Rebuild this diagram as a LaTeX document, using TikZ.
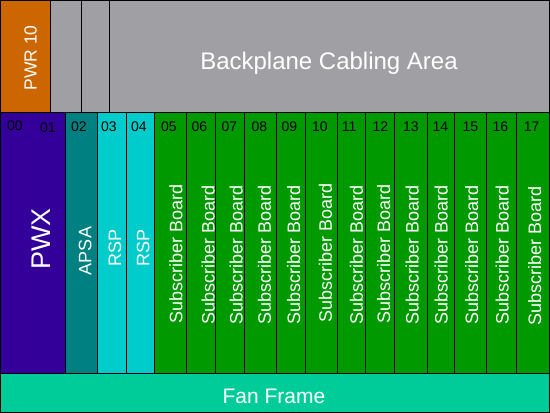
\documentclass[tikz,border=0pt]{standalone}
\usepackage{fontspec}
\setmainfont{Liberation Sans}
\usetikzlibrary{positioning}

\definecolor{pwrorange}{RGB}{204,102,0}
\definecolor{cablegray}{RGB}{160,160,164}
\definecolor{pwxpurple}{RGB}{51,0,153}
\definecolor{apsateal}{RGB}{0,128,128}
\definecolor{rspcyan}{RGB}{0,204,204}
\definecolor{subgreen}{RGB}{0,153,0}
\definecolor{fangreen}{RGB}{0,204,153}

\tikzstyle{area} = [
    rectangle,
    anchor=north west,
    inner sep=0pt,
    outer sep=0pt,
    line width=0.8pt,
    draw=black
]
\tikzstyle{topbox} = [area, minimum height=111.5pt]
\tikzstyle{slot} = [area, minimum height=261pt]
\tikzstyle{subboard} = [slot, fill=subgreen]
\tikzstyle{boardlabel} = [
    rotate=90,
    inner sep=0pt,
    text=white,
    font=\fontsize{18}{18}\selectfont
]
\tikzstyle{slotnum} = [
    inner sep=0pt,
    text=black,
    font=\fontsize{14}{14}\selectfont
]

\begin{document}
\begin{tikzpicture}[x=1pt, y=-1pt]

\useasboundingbox (0,0) rectangle (550,413);

% backplane row
\node (pwr) [topbox, fill=pwrorange, minimum width=49.8pt] at (0.5,0.5) {};
\node (gray1) [topbox, fill=cablegray, minimum width=31.4pt] at (50.3,0.5) {};
\node (gray2) [topbox, fill=cablegray, minimum width=27.6pt] at (81.7,0.5) {};
\node (cabling) [topbox, fill=cablegray, minimum width=440.2pt] at (109.3,0.5) {};

\node (pwrtext) [boardlabel, font=\fontsize{17.5}{17.5}\selectfont] at (30.5,58) {PWR 10};
\node (cablingtext) [anchor=base, inner sep=0pt, text=white,
    font=\fontsize{24}{24}\selectfont] at (329,69) {Backplane Cabling Area};

% slots
\node (pwx) [slot, fill=pwxpurple, minimum width=65.2pt] at (0.5,112) {};
\node (apsa) [slot, fill=apsateal, minimum width=31.6pt] at (65.7,112) {};
\node (rsp3) [slot, fill=rspcyan, minimum width=29pt] at (97.3,112) {};
\node (rsp4) [slot, fill=rspcyan, minimum width=28pt] at (126.3,112) {};
\node (sb5) [subboard, minimum width=32.4pt] at (154.3,112) {};
\node (sb6) [subboard, minimum width=29pt] at (186.7,112) {};
\node (sb7) [subboard, minimum width=29pt] at (215.7,112) {};
\node (sb8) [subboard, minimum width=31.6pt] at (244.7,112) {};
\node (sb9) [subboard, minimum width=29.4pt] at (276.3,112) {};
\node (sb10) [subboard, minimum width=31.6pt] at (305.7,112) {};
\node (sb11) [subboard, minimum width=28.4pt] at (337.3,112) {};
\node (sb12) [subboard, minimum width=29pt] at (365.7,112) {};
\node (sb13) [subboard, minimum width=32.6pt] at (394.7,112) {};
\node (sb14) [subboard, minimum width=27pt] at (427.3,112) {};
\node (sb15) [subboard, minimum width=32pt] at (454.3,112) {};
\node (sb16) [subboard, minimum width=30pt] at (486.3,112) {};
\node (sb17) [subboard, minimum width=33.2pt] at (516.3,112) {};

% fan frame
\node (fan) [area, fill=fangreen, minimum width=549pt, minimum height=39.5pt] at (0.5,373) {};
\node (fantext) [anchor=base, inner sep=0pt, text=white,
    font=\fontsize{21}{21}\selectfont] at (274,403.3) {Fan Frame};

% slot numbers
\node (n00) [slotnum] at (15,125.8) {00};
\node (n01) [slotnum] at (48,127.5) {01};
\node (n02) [slotnum] at (79,126.7) {02};
\node (n03) [slotnum] at (109,126.7) {03};
\node (n04) [slotnum] at (138.8,126.7) {04};
\node (n05) [slotnum] at (169,126.7) {05};
\node (n06) [slotnum] at (199.5,126.7) {06};
\node (n07) [slotnum] at (229.5,126.7) {07};
\node (n08) [slotnum] at (259.5,126.7) {08};
\node (n09) [slotnum] at (289.5,126.7) {09};
\node (n10) [slotnum] at (320,126.7) {10};
\node (n11) [slotnum] at (349.2,126.7) {11};
\node (n12) [slotnum] at (380.5,126.7) {12};
\node (n13) [slotnum] at (410.8,126.7) {13};
\node (n14) [slotnum] at (440.5,126.7) {14};
\node (n15) [slotnum] at (470.5,126.7) {15};
\node (n16) [slotnum] at (500.5,126.7) {16};
\node (n17) [slotnum] at (531.7,126.7) {17};

% board names
\node (pwxtext) [boardlabel, font=\fontsize{27}{27}\selectfont] at (41.7,239) {PWX};
\node (apsatext) [boardlabel] at (85.3,251) {APSA};
\node (rsp3text) [boardlabel] at (115,248) {RSP};
\node (rsp4text) [boardlabel] at (143.3,248) {RSP};
\node (sb5text) [boardlabel] at (176,254) {Subscriber Board};
\node (sb6text) [boardlabel] at (208.3,255) {Subscriber Board};
\node (sb7text) [boardlabel] at (236.3,255) {Subscriber Board};
\node (sb8text) [boardlabel] at (264.5,255) {Subscriber Board};
\node (sb9text) [boardlabel] at (293.7,255) {Subscriber Board};
\node (sb10text) [boardlabel] at (325.5,252.5) {Subscriber Board};
\node (sb11text) [boardlabel] at (356.5,255) {Subscriber Board};
\node (sb12text) [boardlabel] at (383.8,254) {Subscriber Board};
\node (sb13text) [boardlabel] at (412.2,255) {Subscriber Board};
\node (sb14text) [boardlabel] at (441.3,255) {Subscriber Board};
\node (sb15text) [boardlabel] at (471.8,255) {Subscriber Board};
\node (sb16text) [boardlabel] at (502.2,255) {Subscriber Board};
\node (sb17text) [boardlabel] at (534.7,256.3) {Subscriber Board};

\end{tikzpicture}
\end{document}
